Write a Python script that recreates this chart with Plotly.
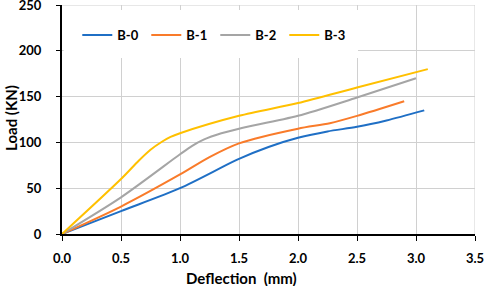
import plotly.graph_objects as go

b0_x = [0, 0.5, 1.0, 1.5, 1.75, 2.0, 2.25, 2.5, 2.75, 3.07]
b0_y = [0, 25, 50, 82, 95, 105, 112, 117, 124, 135]
b1_x = [0, 0.5, 1.0, 1.25, 1.5, 2.0, 2.27, 2.5, 2.9]
b1_y = [0, 30, 65, 84, 99, 115, 121, 129, 145]
b2_x = [0, 0.5, 1.0, 1.1, 1.2, 1.35, 1.5, 2.0, 2.5, 3.0]
b2_y = [0, 40, 87, 96, 103, 110, 115, 129, 149, 170]
b3_x = [0, 0.5, 0.65, 0.75, 0.85, 0.92, 1.0, 1.5, 2.0, 2.5, 3.1]
b3_y = [0, 60, 80, 92, 101, 106, 110, 129, 143, 160, 180]

names = ["B-0", "B-1", "B-2", "B-3"]
colors = ["#1f6fc5", "#f97b2a", "#a5a5a5", "#ffc000"]
xs = [b0_x, b1_x, b2_x, b3_x]
ys = [b0_y, b1_y, b2_y, b3_y]

x_ticks = [0, 0.5, 1.0, 1.5, 2.0, 2.5, 3.0, 3.5]
x_labels = ["0.0", "0.5", "1.0", "1.5", "2.0", "2.5", "3.0", "3.5"]
y_ticks = [0, 50, 100, 150, 200, 250]
x_title = "Deflection  (mm)"
y_title = "Load (KN)"

FONT = "Lato"
GRID = "#d0d0d0"

fig = go.Figure()
for n, c, x, y in zip(names, colors, xs, ys):
    fig.add_trace(go.Scatter(x=x, y=y, name=n, mode="lines",
                             line=dict(color=c, width=2, shape="spline", smoothing=0.8)))

# edge gridlines (top and right)
fig.add_shape(type="line", xref="paper", yref="y", x0=0, x1=1, y0=y_ticks[-1], y1=y_ticks[-1],
              line=dict(color=GRID, width=1), layer="below")
fig.add_shape(type="line", xref="x", yref="paper", x0=x_ticks[-1], x1=x_ticks[-1], y0=0, y1=1,
              line=dict(color=GRID, width=1), layer="below")
# legend background
fig.add_shape(type="rect", xref="paper", yref="paper",
              x0=0.004, x1=(358 - 62) / 413, y0=(234 - 58) / 229, y1=(234 - 10) / 229,
              fillcolor="white", line=dict(width=0), layer="above")

fig.add_annotation(text=x_title, xref="paper", yref="paper", x=(241 - 62) / 413, y=(234 - 278) / 229,
                   xanchor="center", yanchor="middle", showarrow=False,
                   font=dict(family=FONT, size=15, color="black", weight="bold"))
fig.add_annotation(text=y_title, xref="paper", yref="paper", x=(11 - 62) / 413, y=(234 - 118) / 229,
                   xanchor="center", yanchor="middle", showarrow=False, textangle=-90,
                   font=dict(family=FONT, size=15, color="black", weight="bold"))

fig.update_layout(
    width=484, height=286,
    margin=dict(l=62, r=9, t=5, b=52, autoexpand=False),
    paper_bgcolor="white", plot_bgcolor="white",
    font=dict(family=FONT, size=13, color="black", weight="bold"),
    showlegend=True,
    legend=dict(orientation="h", x=0.037, y=(234 - 35) / 229, yanchor="middle", xanchor="left",
                bgcolor="rgba(0,0,0,0)", entrywidth=24, entrywidthmode="pixels",
                font=dict(family=FONT, size=13, color="black", weight="bold")),
    xaxis=dict(range=[0, 3.5], tickvals=x_ticks, ticktext=x_labels, automargin=False,
               showgrid=True, gridcolor=GRID, gridwidth=1,
               showline=True, linecolor="black", linewidth=2,
               ticks="outside", ticklen=5, tickcolor="black", tickwidth=1,
               ticklabelstandoff=6, zeroline=False, ticklabeloverflow="allow"),
    yaxis=dict(range=[0, 250], tickvals=y_ticks, automargin=False,
               showgrid=True, gridcolor=GRID, gridwidth=1,
               showline=True, linecolor="black", linewidth=2,
               ticks="outside", ticklen=4, tickcolor="black", tickwidth=1,
               ticklabelstandoff=12, zeroline=False, ticklabeloverflow="allow"),
)

fig.write_html("out.html", config={"displayModeBar": False},
               post_script="document.body.style.margin='0';document.body.style.padding='0';")
